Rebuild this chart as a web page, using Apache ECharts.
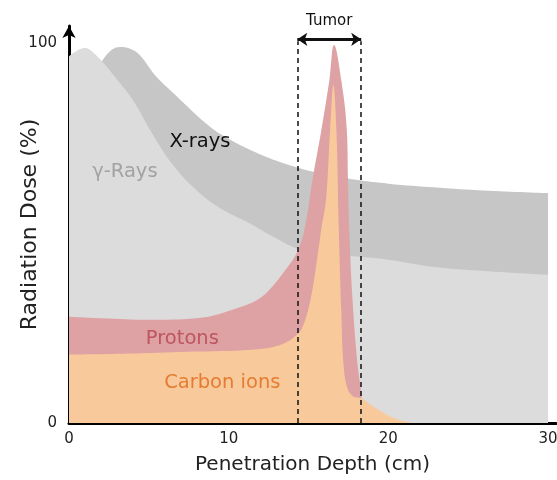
<!DOCTYPE html>
<html>
<head>
<meta charset="UTF-8">
<title>Radiation dose vs depth</title>
<script src="https://cdn.jsdelivr.net/npm/echarts@6/dist/echarts.min.js"></script>
<style>html,body,#container{width:100%;height:100%;margin:0;padding:0;background:#fff;}</style>
</head>
<body>
<div id="container"></div>
<script>
// depth (cm) / dose (%)
var xrayX = [0, 1.2, 2.1, 2.7, 3.2, 3.8, 4.4, 5.4, 6.5, 7.5, 8.4, 9.5, 11.3, 13.0, 14.5, 16, 18, 20, 23, 26, 30];
var xrayY = [86, 90, 95.5, 98.3, 99, 98.6, 97, 91.5, 87, 83, 79.5, 76, 72, 69, 67, 65.5, 64, 63, 62, 61.2, 60.5];

var gammaX = [0, 0.5, 1.0, 1.5, 2.1, 3.0, 4.0, 5.1, 6.5, 8.2, 9.7, 11.3, 12.8, 14.25, 16, 18, 20, 23, 26, 30];
var gammaY = [96.5, 98, 98.7, 97.6, 95, 90.5, 85, 77, 68, 60.5, 56, 52.6, 49, 46, 44.5, 43.8, 43, 41, 40, 39];

var protonX = [0, 2, 5, 8, 10.7, 12, 12.75, 13.5, 14.25, 14.75, 15.25, 15.8, 16.3, 16.6, 17.06, 17.4, 17.47, 17.55, 17.75, 18.06, 18.3, 18.35];
var protonY = [28, 27.6, 27.2, 27.6, 30.5, 33, 36, 40, 44.7, 51, 64, 77, 90, 99.5, 90, 77, 64, 51, 33, 15.8, 7.5, 0];

var carbonX = [0, 4, 8, 12, 13.5, 14.2, 14.6, 15.1, 15.5, 15.8, 16.1, 16.35, 16.56, 16.75, 16.9, 17.05, 17.2, 17.45, 17.8, 18.3, 18.9, 19.4, 20, 20.7, 21.5];
var carbonY = [18, 18.3, 18.8, 19.5, 21, 23, 25, 32, 42, 51, 59, 77, 89, 77, 51, 30, 15, 9, 7, 6.5, 4.8, 3.4, 2, 0.8, 0];

var tumorRange = [14.3, 18.3];
var tumorTop = 101;
var xTicks = [0, 10, 20, 30];
var yTicks = [0, 100];

// where the curve names sit [depth, dose]
var labelPos = {
	xray: [8.2, 74],
	gamma: [3.5, 66],
	proton: [7.1, 22],
	carbon: [9.6, 10.5]
};

function pairs(xs, ys) {
	return xs.map(function (x, i) { return [x, ys[i]]; });
}

var font = 'DejaVu Sans';

function areaSeries(name, xs, ys, color, labelText, labelColor, pos) {
	return {
		name: name,
		type: 'line',
		data: pairs(xs, ys),
		smooth: 0.4,
		showSymbol: false,
		silent: true,
		lineStyle: { width: 0 },
		areaStyle: { color: color, opacity: 1 },
		markPoint: {
			symbol: 'circle',
			symbolSize: 0,
			silent: true,
			label: {
				show: true,
				position: 'inside',
				formatter: labelText,
				color: labelColor,
				fontSize: 19.5,
				fontFamily: font
			},
			data: [{ coord: pos }]
		}
	};
}

var chart = echarts.init(document.getElementById('container'));

var series = [
	areaSeries('X-rays', xrayX, xrayY, '#c6c6c6', 'X-rays', '#111', labelPos.xray),
	areaSeries('γ-Rays', gammaX, gammaY, '#dcdcdc', 'γ-Rays', '#a2a2a2', labelPos.gamma),
	areaSeries('Protons', protonX, protonY, '#dea1a4', 'Protons', '#bd5660', labelPos.proton),
	areaSeries('Carbon ions', carbonX, carbonY, '#f8c99a', 'Carbon ions', '#e47d33', labelPos.carbon)
];

// tumor box + arrow
series[3].markLine = {
	silent: true,
	symbol: 'none',
	label: { show: false },
	lineStyle: { color: '#111', type: [5, 4], width: 1.5 },
	data: [
		[{ coord: [tumorRange[0], 0] }, { coord: [tumorRange[0], tumorTop - 0.5] }],
		[{ coord: [tumorRange[1], 0] }, { coord: [tumorRange[1], tumorTop - 0.5] }],
		[
			{
				coord: [tumorRange[0], tumorTop],
				symbol: 'arrow',
				symbolSize: [10, 10],
				lineStyle: { type: 'solid', width: 3 },
				label: {
					show: true,
					position: 'middle',
					formatter: 'Tumor',
					color: '#111',
					fontSize: 15,
					fontFamily: font,
					distance: 11
				}
			},
			{ coord: [tumorRange[1], tumorTop], symbol: 'arrow', symbolSize: [10, 10] }
		]
	]
};

chart.setOption({
	animation: false,
	backgroundColor: '#fff',
	grid: { left: 69, right: 1, top: 26, bottom: 57, outerBoundsMode: 'none', containLabel: false },
	xAxis: {
		type: 'value',
		min: 0,
		max: 30.5,
		interval: 10,
		name: 'Penetration Depth (cm)',
		nameLocation: 'middle',
		nameGap: 32,
		nameMoveOverlap: false,
		nameTextStyle: { fontSize: 20, color: '#222', fontFamily: font },
		axisLine: { lineStyle: { color: '#000', width: 3 } },
		axisTick: { show: false },
		splitLine: { show: false },
		axisLabel: {
			margin: 9,
			fontSize: 15,
			color: '#222',
			fontFamily: font,
			formatter: function (v) { return xTicks.indexOf(v) >= 0 ? String(v) : ''; }
		}
	},
	yAxis: {
		type: 'value',
		min: 0,
		max: 104.5,
		interval: 100,
		name: 'Radiation Dose (%)',
		nameLocation: 'middle',
		nameRotate: 90,
		nameGap: 28,
		nameMoveOverlap: false,
		nameTextStyle: { fontSize: 22, color: '#222', fontFamily: font },
		axisLine: {
			lineStyle: { color: '#000', width: 3 },
			symbol: ['none', 'arrow'],
			symbolSize: [10, 12]
		},
		axisTick: { show: false },
		splitLine: { show: false },
		axisLabel: {
			margin: 12,
			fontSize: 15,
			color: '#222',
			fontFamily: font,
			formatter: function (v) { return yTicks.indexOf(v) >= 0 ? String(v) : ''; }
		}
	},
	series: series
});
</script>
</body>
</html>
